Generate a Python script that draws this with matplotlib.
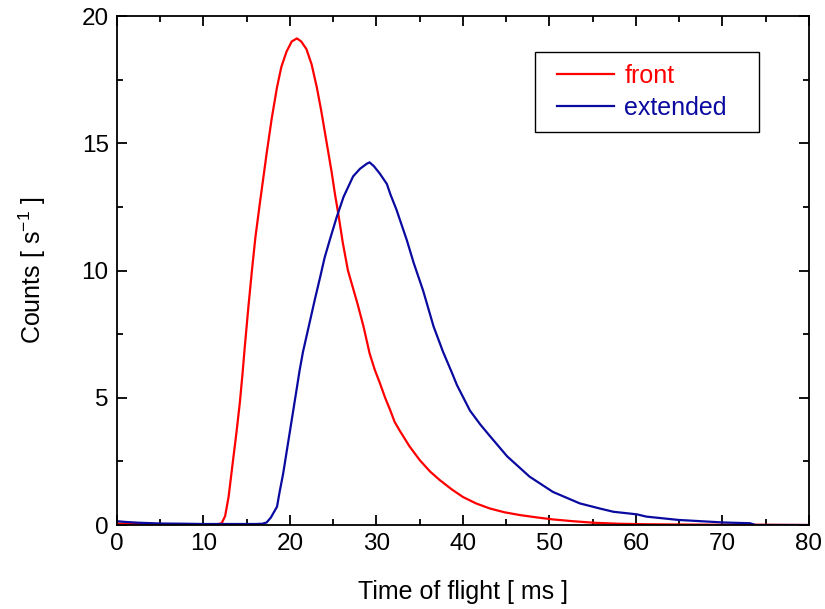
import matplotlib
matplotlib.use("Agg")
from matplotlib import pyplot as plt
from matplotlib.patches import Rectangle
from matplotlib.ticker import MultipleLocator

# time of flight [ms] and counts [1/s]
front_t = [0, 2, 5, 8, 10, 11, 11.6, 12.1, 12.5, 12.9, 13.4, 13.8, 14.2, 14.5, 14.8,
           15.2, 15.6, 16.0, 16.5, 17.3, 17.9, 18.5, 19.0, 19.6, 20.2, 20.8, 21.3,
           21.9, 22.5, 23.1, 23.6, 24.0, 24.4, 24.8, 25.2, 25.6, 26.1, 26.7,
           27.8, 28.5, 29.2, 29.8, 30.4, 31.0, 31.6, 32.1, 32.7, 33.8, 35.0, 36.2,
           37.3, 38.7, 40.0, 41.5, 43.1, 44.8, 46.6, 48.5, 50.4, 52.7, 55.1, 58.0,
           61.2, 65.0, 70.0, 75.0, 80.0]
front_c = [0.06, 0.04, 0.03, 0.02, 0.02, 0.02, 0.03, 0.07, 0.35, 1.1, 2.5, 3.6, 4.8,
           5.9, 7.1, 8.6, 10.0, 11.3, 12.6, 14.6, 16.0, 17.2, 18.0, 18.6, 19.0, 19.12,
           19.0, 18.7, 18.1, 17.2, 16.3, 15.5, 14.7, 13.9, 13.0, 12.2, 11.1, 10.0,
           8.7, 7.8, 6.75, 6.1, 5.57, 5.0, 4.5, 4.05, 3.7, 3.1, 2.55, 2.1,
           1.77, 1.4, 1.1, 0.85, 0.65, 0.5, 0.39, 0.3, 0.22, 0.15, 0.09, 0.05,
           0.03, 0.02, 0.01, 0.01, 0.0]

ext_t = [0, 1, 2.5, 5, 8, 10, 12, 14, 16, 16.8, 17.3, 17.8, 18.5, 18.8, 19.2,
         19.6, 20.0, 20.4, 20.8, 21.1, 21.5, 22.3, 22.9, 23.5, 24.0, 24.6, 25.4, 26.2,
         27.3, 28.1, 28.9, 29.2, 29.7, 30.4, 31.2, 31.6, 32.3, 32.7, 33.5, 34.3,
         35.4, 36.6, 37.7, 38.7, 39.3, 40.8, 42.0, 43.1, 45.1, 47.7, 50.4, 53.5,
         55.8, 57.4, 60.1, 61.2, 64.9, 67.5, 70.1, 73.2, 73.8, 76.0, 80.0]
ext_c = [0.15, 0.12, 0.09, 0.06, 0.05, 0.04, 0.04, 0.04, 0.04, 0.05, 0.1, 0.3, 0.72,
         1.3, 2.0, 2.85, 3.7, 4.55, 5.4, 6.05, 6.8, 8.0, 8.9, 9.76, 10.5, 11.2, 12.1,
         12.9, 13.7, 14.0, 14.2, 14.25, 14.1, 13.8, 13.4, 13.0, 12.4, 12.0, 11.2,
         10.3, 9.2, 7.8, 6.8, 6.0, 5.5, 4.5, 3.95, 3.5, 2.7, 1.9, 1.3, 0.85, 0.65,
         0.52, 0.42, 0.33, 0.2, 0.15, 0.1, 0.07, 0.0, 0.0, 0.0]

plt.rcParams['font.family'] = ['Liberation Sans', 'DejaVu Sans']
plt.rcParams['mathtext.fontset'] = 'custom'
plt.rcParams['mathtext.rm'] = 'Liberation Sans'
plt.rcParams['mathtext.it'] = 'Liberation Sans'

fig = plt.figure(figsize=(8.25, 6.09), dpi=100)
ax = fig.add_axes([0.1418, 0.1379, 0.8388, 0.8358])

red = '#ff0000'
blue = '#0a0aa0'
ax.plot(front_t, front_c, color=red, lw=1.6, label='front')
ax.plot(ext_t, ext_c, color=blue, lw=1.6, label='extended')

ax.set_xlim(0, 80)
ax.set_ylim(0, 20)
ax.xaxis.set_major_locator(MultipleLocator(10))
ax.xaxis.set_minor_locator(MultipleLocator(5))
ax.yaxis.set_major_locator(MultipleLocator(5))
ax.yaxis.set_minor_locator(MultipleLocator(2.5))
ax.tick_params(which='both', direction='in', top=True, right=True,
               labelsize=17.5, width=1.3, pad=6)
ax.tick_params(which='major', length=7.5)
ax.tick_params(which='minor', length=4)
for s in ax.spines.values():
    s.set_linewidth(1.3)

ax.set_xlabel('Time of flight [ ms ]', fontsize=18, labelpad=18)
ax.set_ylabel(r'Counts [ s$^{\mathregular{-1}}$ ]', fontsize=18, labelpad=24)

# legend without its own frame; box drawn wider than the legend itself
leg = ax.legend(loc='upper left', bbox_to_anchor=(0.6185, 0.929), fontsize=18,
                frameon=False, handlelength=2.3, handletextpad=0.4,
                borderpad=0.48, labelspacing=0.3, borderaxespad=0)
for txt, col in zip(leg.get_texts(), [red, blue]):
    txt.set_color(col)

fig.canvas.draw()
bb = leg.get_window_extent()
frame = Rectangle((bb.x0 - 10, bb.y0), bb.width + 30, bb.height,
                  transform=None, fill=False, edgecolor='black', lw=1.0,
                  zorder=6)
fig.add_artist(frame)

fig.savefig('out.png', dpi=100)
